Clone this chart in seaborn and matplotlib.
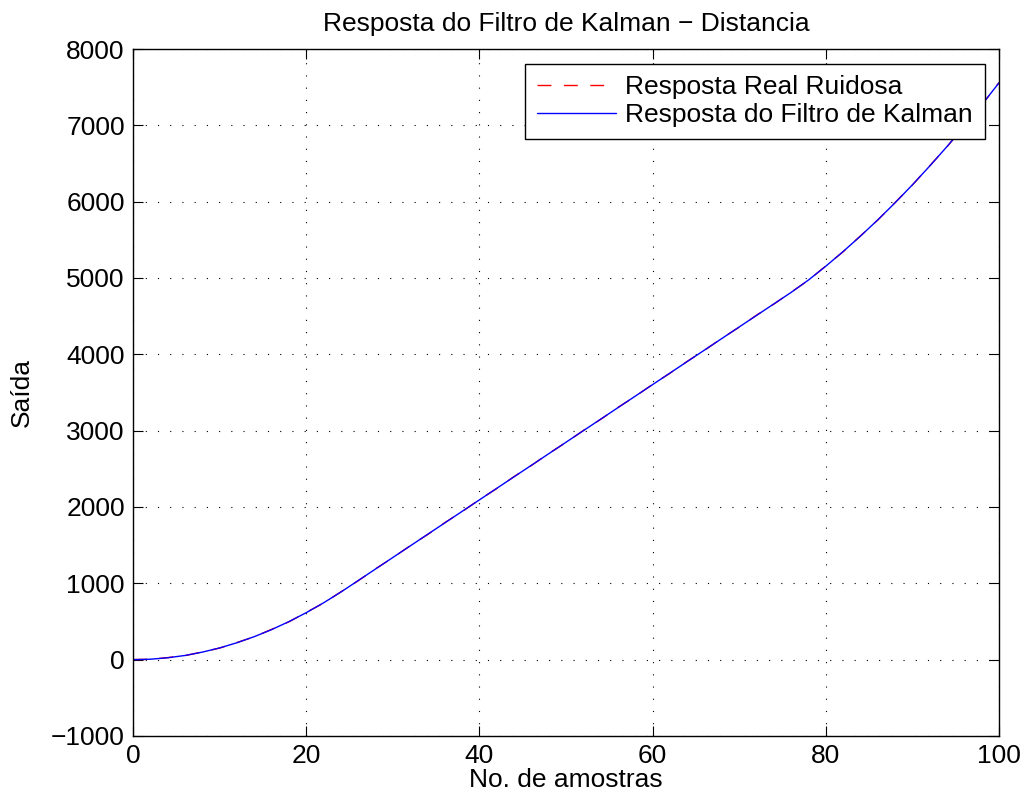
import numpy as np
import pandas as pd
import seaborn as sns
import matplotlib.pyplot as plt

# amostras (passo 2) e valores
amostras = [0, 2, 4, 6, 8, 10, 12, 14, 16, 18, 20, 22, 24, 26, 28, 30, 32, 34, 36, 38,
            40, 42, 44, 46, 48, 50, 52, 54, 56, 58, 60, 62, 64, 66, 68, 70, 72, 74, 76, 78,
            80, 82, 84, 86, 88, 90, 92, 94, 96, 98, 100]

resposta_kalman = [0, 6, 25, 55, 99, 154, 222, 302, 394, 499, 616, 745, 886, 1037, 1188,
                   1339, 1490, 1641, 1792, 1943, 2094, 2245, 2396, 2547, 2698, 2849, 3000,
                   3151, 3302, 3453, 3604, 3755, 3906, 4057, 4208, 4359, 4510, 4661, 4812,
                   4974, 5155, 5347, 5549, 5762, 5986, 6221, 6467, 6723, 6990, 7268, 7557]

resposta_ruidosa = [2, 4, 27, 53, 101, 152, 225, 300, 397, 496, 619, 742, 889, 1034, 1191,
                    1336, 1493, 1638, 1795, 1940, 2097, 2242, 2399, 2544, 2701, 2846, 3003,
                    3148, 3305, 3450, 3607, 3752, 3909, 4054, 4211, 4356, 4513, 4658, 4815,
                    4971, 5158, 5344, 5552, 5759, 5989, 6218, 6470, 6720, 6993, 7265, 7560]

xticks = [0, 20, 40, 60, 80, 100]
yticks = [-1000, 0, 1000, 2000, 3000, 4000, 5000, 6000, 7000, 8000]

df = pd.DataFrame({'amostra': amostras,
                   'ruidosa': resposta_ruidosa,
                   'kalman': resposta_kalman})

sns.set_style("ticks")
plt.rcParams['font.family'] = ['Liberation Sans', 'DejaVu Sans']
plt.rcParams['text.color'] = 'black'
plt.rcParams['axes.labelcolor'] = 'black'

fs = 19

fig = plt.figure(figsize=(10.24, 8.02), dpi=100)
ax = fig.add_axes([0.130, 0.0823, 0.8456, 0.8566])

sns.lineplot(data=df, x='amostra', y='ruidosa', ax=ax, color='red',
             linestyle=(0, (10, 9)), linewidth=1.0, label='Resposta Real Ruidosa')
sns.lineplot(data=df, x='amostra', y='kalman', ax=ax, color='blue',
             linewidth=1.0, label='Resposta do Filtro de Kalman')

ax.set_xlim(0, 100)
ax.set_ylim(-1000, 8000)
ax.set_xticks(xticks)
ax.set_yticks(yticks)
ax.set_xticklabels([str(t) for t in xticks])
ax.set_yticklabels([str(t).replace('-', '\u2212') for t in yticks])

ax.grid(True, color='black', linestyle=(0, (1, 10)), linewidth=0.8)
ax.tick_params(direction='in', length=7, width=0.8, top=True, right=True,
               labelsize=fs, colors='black', pad=6)
for s in ax.spines.values():
    s.set_visible(True)
    s.set_linewidth(1.0)
    s.set_color('black')

ax.set_xlabel('No. de amostras', fontsize=fs, labelpad=0, color='black')
ax.set_ylabel('Saída', fontsize=fs, labelpad=12, color='black')
ax.set_title('Resposta do Filtro de Kalman \u2212 Distancia', fontsize=fs, pad=13,
             color='black')

leg = ax.legend(loc='upper right', fontsize=fs, frameon=True, fancybox=False,
                edgecolor='black', framealpha=1, handlelength=3.0,
                borderaxespad=0.55, borderpad=0.45, labelspacing=0.15,
                handletextpad=0.35)
leg.get_frame().set_linewidth(1.0)
for t in leg.get_texts():
    t.set_color('black')

fig.savefig('out.png', dpi=100)
